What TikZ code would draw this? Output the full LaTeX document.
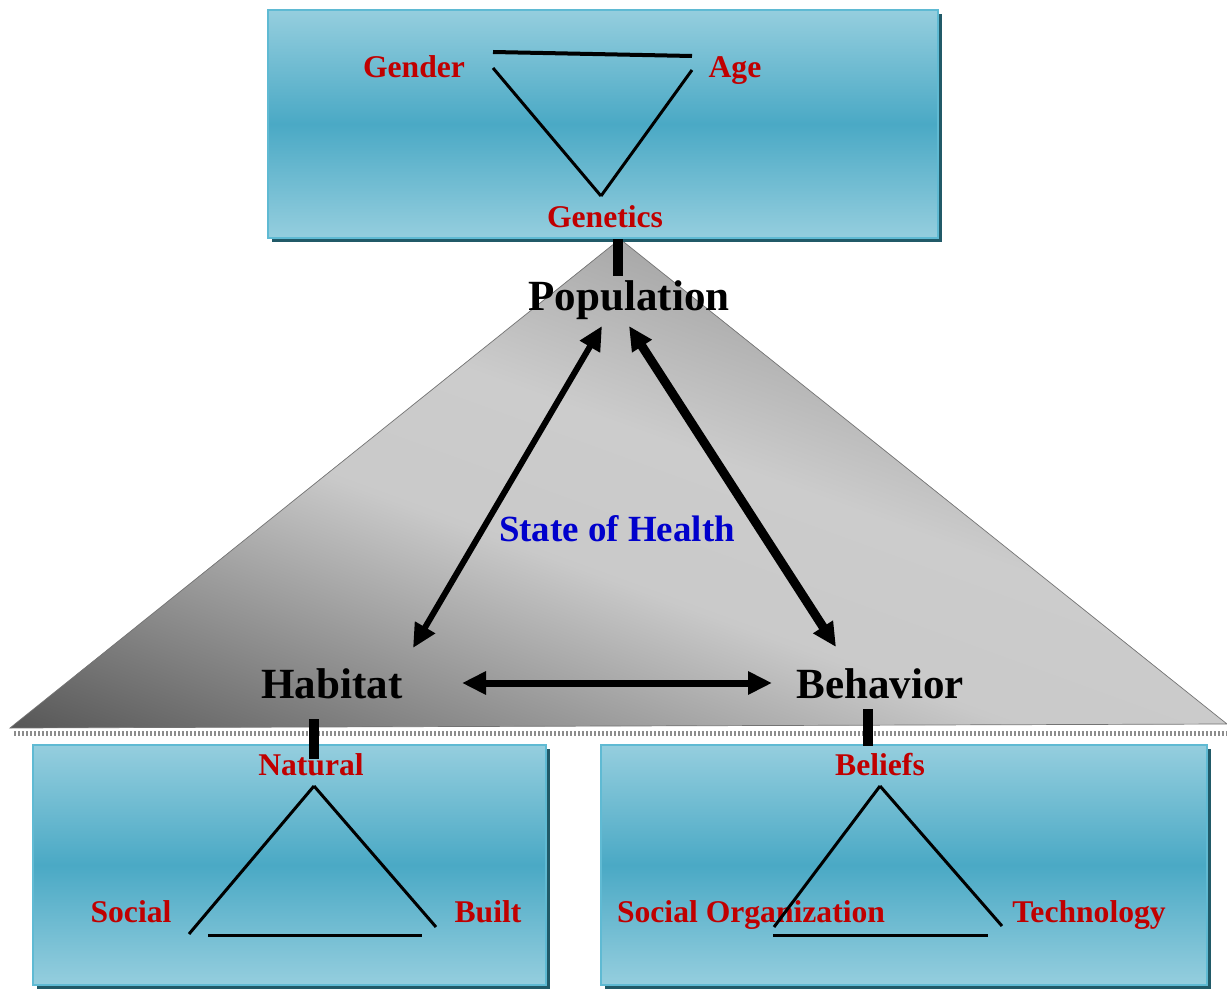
\documentclass[tikz,border=0pt]{standalone}
\usepackage{fontspec}
\setmainfont{Liberation Serif}
\usetikzlibrary{arrows.meta,shadows}
\definecolor{boxtop}{HTML}{95CEDE}
\definecolor{boxmid}{HTML}{4AA9C5}
\definecolor{boxedge}{HTML}{5FBAD3}
\definecolor{boxshadow}{HTML}{215A68}
\definecolor{labelred}{HTML}{C00000}
\definecolor{healthblue}{HTML}{0000CC}
\pgfdeclareverticalshading{trigrey}{100bp}{color(0bp)=(black!66); color(25bp)=(black!66);
  color(51bp)=(black!21); color(62bp)=(black!20); color(75bp)=(black!34); color(100bp)=(black!34)}
\begin{document}
\begin{tikzpicture}[x=0.02cm, y=-0.02cm,
  panel/.style={draw=boxedge, line width=1.2pt, bottom color=boxtop, top color=boxtop,
    middle color=boxmid, inner sep=0pt,
    drop shadow={shadow xshift=0.08cm, shadow yshift=-0.08cm, fill=boxshadow, opacity=1}},
  redlab/.style={anchor=base, inner sep=0pt, text=labelred, font=\fontsize{18}{20}\selectfont\bfseries},
  biglab/.style={anchor=base, inner sep=0pt, font=\fontsize{24.5}{26}\selectfont\bfseries},
  side/.style={line width=0.06cm},
  stub/.style={line width=0.2cm},
  arr/.style={{Triangle[length=0.48cm,width=0.44cm]}-{Triangle[length=0.48cm,width=0.44cm]}}]

  \useasboundingbox (0,0) rectangle (1227,990);

  % grey triangle
	\begin{scope}
	  \clip (620,239) -- (10,728) -- (1227,724) -- cycle;
	  \begin{scope}[transform canvas={rotate around={-20:(640,520)}}]
	    \shade[shading=trigrey] (-400,264) rectangle (1700,931);
	  \end{scope}
	\end{scope}
	\draw[black!55] (620,239) -- (10,728) -- (1227,724) -- cycle;
	\draw[black!45, line width=0.1cm, dash pattern=on 0.04cm off 0.04cm] (14,733) -- (1227,733);

  % boxes
	\node[panel, minimum width=13.4cm, minimum height=4.56cm] (popbox) at (603,124) {};
	\node[panel, minimum width=10.26cm, minimum height=4.8cm] (habbox) at (289.5,865) {};
	\node[panel, minimum width=12.12cm, minimum height=4.8cm] (behbox) at (904,865) {};

  % population box
	\node[redlab] (gend) at (414,78) {Gender};
	\node[redlab] (age) at (735,78) {Age};
	\node[redlab] (genet) at (605,227) {Genetics};
	\draw[line width=0.08cm] ([shift={(79,-26)}]gend.base) -- ([shift={(-43,-22)}]age.base);
	\draw[side] ([shift={(79,-10)}]gend.base) -- ([shift={(-4,-31)}]genet.base);
	\draw[side] ([shift={(-43,-8)}]age.base) -- ([shift={(-4,-31)}]genet.base);

  % habitat box
	\node[redlab] (nat) at (311,775) {Natural};
	\node[redlab] (soc) at (131,922) {Social};
	\node[redlab] (built) at (488,922) {Built};
	\draw[side] ([shift={(58,12)}]soc.base) -- ([shift={(3,11)}]nat.base);
	\draw[side] ([shift={(3,11)}]nat.base) -- ([shift={(-52,5)}]built.base);
	\draw[side] ([shift={(77,13)}]soc.base) -- ([shift={(-66,13)}]built.base);

  % behavior box
	\node[redlab] (bel) at (880,775) {Beliefs};
	\node[redlab] (socorg) at (751,922) {Social Organization};
	\node[redlab] (tech) at (1089,922) {Technology};
	\draw[side] ([shift={(23,5)}]socorg.base) -- ([shift={(0,11)}]bel.base);
	\draw[side] ([shift={(0,11)}]bel.base) -- ([shift={(-87,4)}]tech.base);
	\draw[side] ([shift={(22,13)}]socorg.base) -- ([shift={(-101,13)}]tech.base);

  % main triangle
	\node[biglab] (pop) at (629,310) {Population};
	\node[biglab] (hab) at (332,698) {Habitat};
	\node[biglab] (beh) at (880,698) {Behavior};
	\node[biglab, text=healthblue, font=\fontsize{21}{23}\selectfont\bfseries] (health) at (617,541) {State of Health};

	\draw[arr, line width=0.12cm] ([shift={(81,-50)}]hab.base) -- ([shift={(-27,16)}]pop.base);
	\draw[arr, line width=0.18cm] ([shift={(0,16)}]pop.base) -- ([shift={(-44,-51)}]beh.base);
	\draw[arr, line width=0.14cm] ([shift={(130,-15)}]hab.base) -- ([shift={(-108,-15)}]beh.base);

  % stubs
	\draw[stub] ([shift={(15,0)}]popbox.south) -- ([shift={(-11,-34)}]pop.base);
	\draw[stub] ([shift={(-18,21)}]hab.base) -- ([shift={(3,-16)}]nat.base);
	\draw[stub] ([shift={(-12,11)}]beh.base) -- ([shift={(-12,-29)}]bel.base);

\end{tikzpicture}
\end{document}
